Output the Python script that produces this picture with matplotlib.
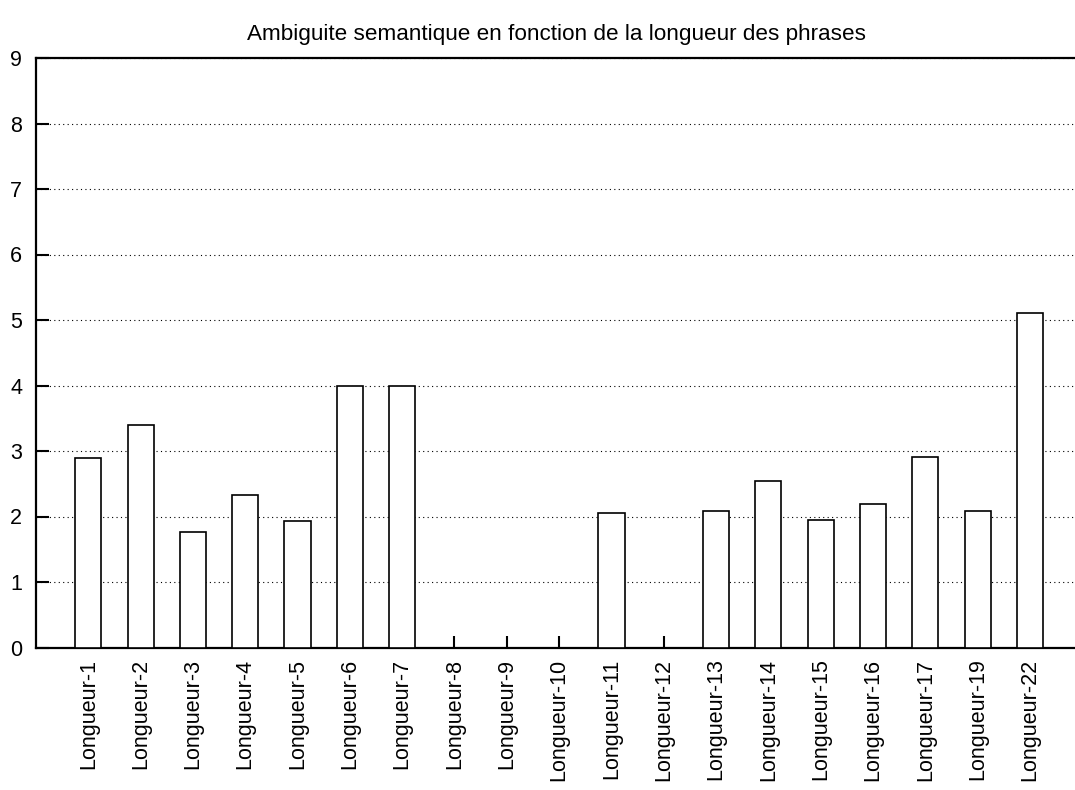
import matplotlib
matplotlib.use("Agg")
import matplotlib.pyplot as plt

plt.rcParams['font.family'] = ['Liberation Sans', 'DejaVu Sans']

categories = ["Longueur-1", "Longueur-2", "Longueur-3", "Longueur-4", "Longueur-5",
              "Longueur-6", "Longueur-7", "Longueur-8", "Longueur-9", "Longueur-10",
              "Longueur-11", "Longueur-12", "Longueur-13", "Longueur-14", "Longueur-15",
              "Longueur-16", "Longueur-17", "Longueur-19", "Longueur-22"]
ambiguite = [2.89, 3.40, 1.76, 2.33, 1.93, 4.0, 4.0, 0, 0, 0,
             2.06, 0, 2.09, 2.54, 1.95, 2.19, 2.91, 2.09, 5.11]
y_ticks = list(range(10))

fig = plt.figure(figsize=(10.75, 7.9), dpi=100)
ax = fig.add_axes([36 / 1075, 1 - 647.5 / 790, 1041 / 1075, 589.5 / 790])

x = range(len(categories))
ax.bar(x, ambiguite, width=0.5, facecolor="white", edgecolor="black",
       linewidth=1.2, zorder=3)

ax.set_xlim(-1, 18.9)
ax.set_ylim(0, 9)
ax.set_yticks(y_ticks)
ax.set_xticks(list(x))
ax.set_xticklabels(categories, rotation=90, fontsize=15.5)
ax.tick_params(axis="y", direction="in", length=9, width=1.5, labelsize=15.5, pad=10)
ax.tick_params(axis="x", direction="in", length=9, width=1.5, pad=8)

ax.yaxis.grid(True, linestyle=(0, (1, 3)), color="black", linewidth=0.8, zorder=0)
ax.set_axisbelow(True)

for side in ["left", "bottom", "top"]:
    ax.spines[side].set_linewidth(1.6)
ax.spines["right"].set_visible(False)

ax.set_title("Ambiguite semantique en fonction de la longueur des phrases",
             fontsize=16.2, pad=13)

fig.savefig("out.png", dpi=100)
